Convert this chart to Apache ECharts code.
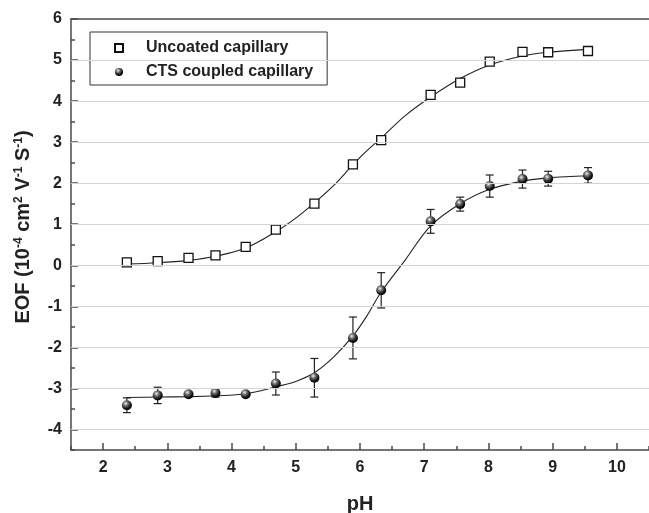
<!DOCTYPE html>
<html><head><meta charset="utf-8">
<script src="https://cdn.jsdelivr.net/npm/echarts@6/dist/echarts.min.js"></script>
<style>html,body{margin:0;padding:0;background:#fff}#c{width:649px;height:513px}</style>
</head><body><div id="c"></div>
<script>
// ---- data ----
const pH = [2.37, 2.85, 3.33, 3.75, 4.22, 4.69, 5.29, 5.89, 6.33, 7.10, 7.56, 8.02, 8.53, 8.93, 9.55];
const uncoated = [0.07, 0.10, 0.18, 0.24, 0.45, 0.87, 1.50, 2.46, 3.05, 4.15, 4.45, 4.96, 5.20, 5.19, 5.22];
const cts = [-3.41, -3.17, -3.14, -3.11, -3.14, -2.88, -2.74, -1.77, -0.61, 1.07, 1.49, 1.93, 2.10, 2.11, 2.19];
const ctsErr = [0.18, 0.20, 0.05, 0.10, 0.02, 0.28, 0.47, 0.51, 0.43, 0.29, 0.17, 0.27, 0.22, 0.18, 0.19];
// fitted curves
const fitX = [2.37, 2.85, 3.33, 3.75, 4.22, 4.69, 5.0, 5.29, 5.6, 5.89, 6.1, 6.33, 6.7, 7.1, 7.56, 8.02, 8.53, 8.93, 9.55];
const fitUncoated = [0.03, 0.06, 0.12, 0.22, 0.42, 0.82, 1.15, 1.52, 1.96, 2.45, 2.78, 3.10, 3.64, 4.10, 4.55, 4.88, 5.10, 5.19, 5.26];
const fitCts = [-3.22, -3.21, -3.20, -3.18, -3.13, -2.96, -2.83, -2.62, -2.22, -1.72, -1.25, -0.65, 0.12, 0.96, 1.50, 1.85, 2.05, 2.13, 2.18];
const xTicks = [2, 3, 4, 5, 6, 7, 8, 9, 10];
const xMinorTicks = [1.5, 2.5, 3.5, 4.5, 5.5, 6.5, 7.5, 8.5, 9.5, 10.5];
const yTicks = [-4, -3, -2, -1, 0, 1, 2, 3, 4, 5, 6];
const yMinorTicks = [-4.5, -3.5, -2.5, -1.5, -0.5, 0.5, 1.5, 2.5, 3.5, 4.5, 5.5];
const yGrid = [-4, -3, -2, -1, 0, 1, 2, 3, 4, 5];
const seriesNames = ['Uncoated capillary', 'CTS coupled capillary'];

const FONT = 'Liberation Sans, Arial, sans-serif';
const AX = '#4a4a4a';
const SQUARE = 'path://M0,0L10,0L10,10L0,10Z';
const chart = echarts.init(document.getElementById('c'));
const pairs = (xs, ys) => xs.map((x, i) => [x, ys[i]]);
const sphere = {
  type: 'radial', x: 0.38, y: 0.32, r: 0.7,
  colorStops: [{offset: 0, color: '#f4f4f4'}, {offset: 0.3, color: '#7a7a7a'}, {offset: 0.75, color: '#111'}, {offset: 1, color: '#000'}]
};
const baseX = {type: 'value', min: 1.5, max: 10.5, gridIndex: 0};
const baseY = {type: 'value', min: -4.5, max: 6, gridIndex: 0};

chart.setOption({
  animation: false,
  backgroundColor: '#fff',
  grid: {left: 71, right: 0, top: 19, bottom: 63, outerBoundsMode: 'none'},
  legend: {
    data: seriesNames,
    orient: 'vertical', left: 90, top: 32,
    padding: [8, 14, 5, 24],
    itemWidth: 44, itemHeight: 8, itemGap: 8,
    symbolKeepAspect: true,
    backgroundColor: '#fff', borderColor: '#333', borderWidth: 1,
    textStyle: {fontFamily: FONT, fontWeight: 'bold', fontSize: 16, lineHeight: 16, color: '#222'}
  },
  xAxis: [
    Object.assign({}, baseX, {
      position: 'bottom',
      name: 'pH', nameLocation: 'middle', nameGap: 44,
      nameTextStyle: {fontFamily: FONT, fontWeight: 'bold', fontSize: 20, color: '#222'},
      axisLine: {show: true, onZero: false, lineStyle: {color: AX, width: 1.5}},
      axisTick: {show: true, inside: true, length: 7, customValues: xTicks, lineStyle: {color: AX, width: 1.5}},
      axisLabel: {customValues: xTicks, margin: 10, fontFamily: FONT, fontWeight: 'bold', fontSize: 16, color: '#222'},
      splitLine: {show: false}
    }),
    Object.assign({}, baseX, {
      position: 'bottom',
      axisLine: {show: false, onZero: false},
      axisTick: {show: true, inside: true, length: 4, customValues: xMinorTicks, lineStyle: {color: AX, width: 1.5}},
      axisLabel: {show: false},
      splitLine: {show: false}
    }),
    Object.assign({}, baseX, {
      position: 'top',
      axisLine: {show: true, onZero: false, lineStyle: {color: AX, width: 1.5}},
      axisTick: {show: false}, axisLabel: {show: false}, splitLine: {show: false}
    })
  ],
  yAxis: [
    Object.assign({}, baseY, {
      position: 'left',
      name: '{m|EOF (10}{s|-4}{m| cm}{s|2}{m| V}{s|-1}{m| S}{s|-1}{m|)}',
      nameLocation: 'middle', nameGap: 38, nameRotate: 90,
      nameTextStyle: {
        fontFamily: FONT, fontWeight: 'bold', fontSize: 20, color: '#222',
        padding: [0, 0, 0, 15],
        rich: {
          m: {fontFamily: FONT, fontWeight: 'bold', fontSize: 20, lineHeight: 20, color: '#222'},
          s: {fontFamily: FONT, fontWeight: 'bold', fontSize: 12, lineHeight: 12, color: '#222', verticalAlign: 'top'}
        }
      },
      axisLine: {show: true, onZero: false, lineStyle: {color: AX, width: 1.5}},
      axisTick: {show: true, inside: true, length: 7, customValues: yTicks, lineStyle: {color: AX, width: 1.5}},
      axisLabel: {customValues: yTicks, margin: 9, fontFamily: FONT, fontWeight: 'bold', fontSize: 16, color: '#222'},
      splitLine: {show: false}
    }),
    Object.assign({}, baseY, {
      position: 'left',
      axisLine: {show: false, onZero: false},
      axisTick: {show: true, inside: true, length: 4, customValues: yMinorTicks, lineStyle: {color: AX, width: 1.5}},
      axisLabel: {show: false},
      splitLine: {show: false}
    })
  ],
  series: [
    {
      type: 'line', name: 'grid', data: [], z: 1, silent: true,
      markLine: {
        silent: true, symbol: 'none', animation: false,
        label: {show: false},
        lineStyle: {color: '#d4d4d4', width: 1, type: 'solid'},
        emphasis: {disabled: true},
        data: yGrid.map(v => ({yAxis: v}))
      }
    },
    {
      type: 'line', name: 'fit1', data: pairs(fitX, fitUncoated), smooth: 0.35,
      symbol: 'none', lineStyle: {color: '#222', width: 1.1}, z: 2, silent: true
    },
    {
      type: 'line', name: 'fit2', data: pairs(fitX, fitCts), smooth: 0.35,
      symbol: 'none', lineStyle: {color: '#222', width: 1.1}, z: 2, silent: true
    },
    {
      type: 'custom', name: 'err', z: 3, silent: true,
      data: pH.map((x, i) => [x, cts[i] - ctsErr[i], cts[i] + ctsErr[i]]),
      encode: {x: 0, y: [1, 2]},
      renderItem: function (params, api) {
        const x = api.value(0);
        const lo = api.coord([x, api.value(1)]);
        const hi = api.coord([x, api.value(2)]);
        const w = 4;
        const st = {stroke: '#222', lineWidth: 1.2};
        return {
          type: 'group',
          children: [
            {type: 'line', shape: {x1: lo[0], y1: lo[1], x2: hi[0], y2: hi[1]}, style: st},
            {type: 'line', shape: {x1: lo[0] - w, y1: lo[1], x2: lo[0] + w, y2: lo[1]}, style: st},
            {type: 'line', shape: {x1: hi[0] - w, y1: hi[1], x2: hi[0] + w, y2: hi[1]}, style: st}
          ]
        };
      }
    },
    {
      type: 'scatter', name: seriesNames[0], data: pairs(pH, uncoated),
      symbol: SQUARE, symbolSize: 9, z: 4,
      itemStyle: {color: '#fff', borderColor: '#111', borderWidth: 1.3, opacity: 1}
    },
    {
      type: 'scatter', name: seriesNames[1], data: pairs(pH, cts),
      symbol: 'circle', symbolSize: 10, z: 4,
      itemStyle: {color: sphere, opacity: 1}
    }
  ]
});
</script>
</body></html>
